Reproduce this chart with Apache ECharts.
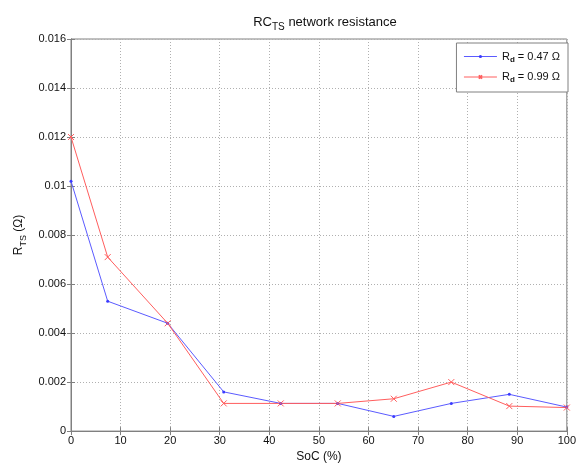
<!DOCTYPE html>
<html>
<head>
<meta charset="utf-8">
<script src="https://cdn.jsdelivr.net/npm/echarts@6/dist/echarts.min.js"></script>
<style>
  html, body { margin: 0; padding: 0; background: #fff; }
  #chart { width: 579px; height: 468px; }
</style>
</head>
<body>
<div id="chart"></div>
<script>
// State of charge sample points (%)
const soc = [0, 7.4, 19.5, 30.8, 42.3, 53.8, 65.1, 76.7, 88.4, 100];
// RC_TS network resistance (ohm) for each discharge resistance
const rd047 = [0.0102, 0.0053, 0.0044, 0.0016, 0.00113, 0.00113, 0.0006, 0.00113, 0.0015, 0.00098];
const rd099 = [0.0120, 0.0071, 0.0044, 0.00113, 0.00113, 0.00113, 0.00132, 0.0020, 0.00102, 0.00096];
const seriesNames = ['Rd047', 'Rd099'];
const xTicks = { min: 0, max: 100, step: 10 };
const yTicks = { min: 0, max: 0.016, step: 0.002 };

const font = 'Liberation Sans, Arial, sans-serif';
const chart = echarts.init(document.getElementById('chart'));

function pairs(xs, ys) { return xs.map((x, i) => [x, ys[i]]); }

const gridLine = { show: true, lineStyle: { type: [1, 2], color: '#b0b0b0', width: 1 } };
const axisLine = { show: true, lineStyle: { color: '#808080', width: 1 } };
const tick = { show: true, inside: true, length: 4, lineStyle: { color: '#808080' } };

chart.setOption({
  animation: false,
  backgroundColor: '#fff',
  title: {
    text: 'RC{sub|TS} network resistance',
    left: 320, top: 8, textAlign: 'center',
    textStyle: {
      fontFamily: font, fontSize: 13, fontWeight: 'normal', color: '#111',
      rich: { sub: { fontFamily: font, fontSize: 10, color: '#111', padding: [9, 0, 0, 0] } }
    }
  },
  grid: { left: 71, top: 39, right: 8, bottom: 36, show: true, borderColor: '#808080', borderWidth: 1 },
  legend: {
    right: 11, top: 43, orient: 'vertical',
    backgroundColor: '#fff', borderColor: '#808080', borderWidth: 1,
    padding: [8, 8, 8, 7], itemGap: 8, itemWidth: 33, itemHeight: 4,
    lineStyle: { width: 1 },
    textStyle: {
      fontFamily: font, fontSize: 11, color: '#111',
      rich: {
        r: { fontFamily: font, fontSize: 11, color: '#111' },
        d: { fontFamily: font, fontSize: 8, color: '#111', fontWeight: 'bold', padding: [6, 0, 0, 0] }
      }
    },
    formatter: function (name) {
      return name === 'Rd047' ? '{r|R}{d|d}{r| = 0.47 Ω}' : '{r|R}{d|d}{r| = 0.99 Ω}';
    },
    data: seriesNames
  },
  xAxis: [{
    type: 'value', min: xTicks.min, max: xTicks.max, interval: xTicks.step,
    name: 'SoC (%)', nameLocation: 'middle', nameGap: 17,
    nameTextStyle: { fontFamily: font, fontSize: 12, color: '#111' },
    axisLine: axisLine, axisTick: tick,
    axisLabel: { fontFamily: font, fontSize: 11, color: '#111', margin: 4 },
    splitLine: gridLine
  }, {
    type: 'value', position: 'top', min: xTicks.min, max: xTicks.max, interval: xTicks.step,
    axisLine: axisLine, axisTick: tick,
    axisLabel: { show: false }, splitLine: { show: false }
  }],
  yAxis: [{
    type: 'value', min: yTicks.min, max: yTicks.max, interval: yTicks.step,
    name: 'R{sub|TS} (Ω)', nameLocation: 'middle', nameGap: 41, nameRotate: 90,
    nameTextStyle: {
      fontFamily: font, fontSize: 12, color: '#111',
      rich: { sub: { fontFamily: font, fontSize: 9, color: '#111', padding: [8, 0, 0, 0] } }
    },
    axisLine: axisLine, axisTick: tick,
    axisLabel: {
      fontFamily: font, fontSize: 11, color: '#111', margin: 5,
      formatter: v => v === 0 ? '0' : String(+v.toFixed(3))
    },
    splitLine: gridLine
  }, {
    type: 'value', position: 'right', min: yTicks.min, max: yTicks.max, interval: yTicks.step,
    axisLine: axisLine, axisTick: tick,
    axisLabel: { show: false }, splitLine: { show: false }
  }],
  series: [{
    name: 'Rd047', type: 'line', data: pairs(soc, rd047),
    lineStyle: { color: '#5b5bff', width: 1 },
    symbol: 'circle', symbolSize: 3,
    itemStyle: { color: '#3a3aff' }
  }, {
    name: 'Rd099', type: 'line', data: pairs(soc, rd099),
    lineStyle: { color: '#ff5e5e', width: 1 },
    symbol: 'path://M0,0L10,10M10,0L0,10', symbolSize: 6,
    itemStyle: { color: 'rgba(0,0,0,0)', borderColor: '#ff5e5e', borderWidth: 1 }
  }]
});
</script>
</body>
</html>
